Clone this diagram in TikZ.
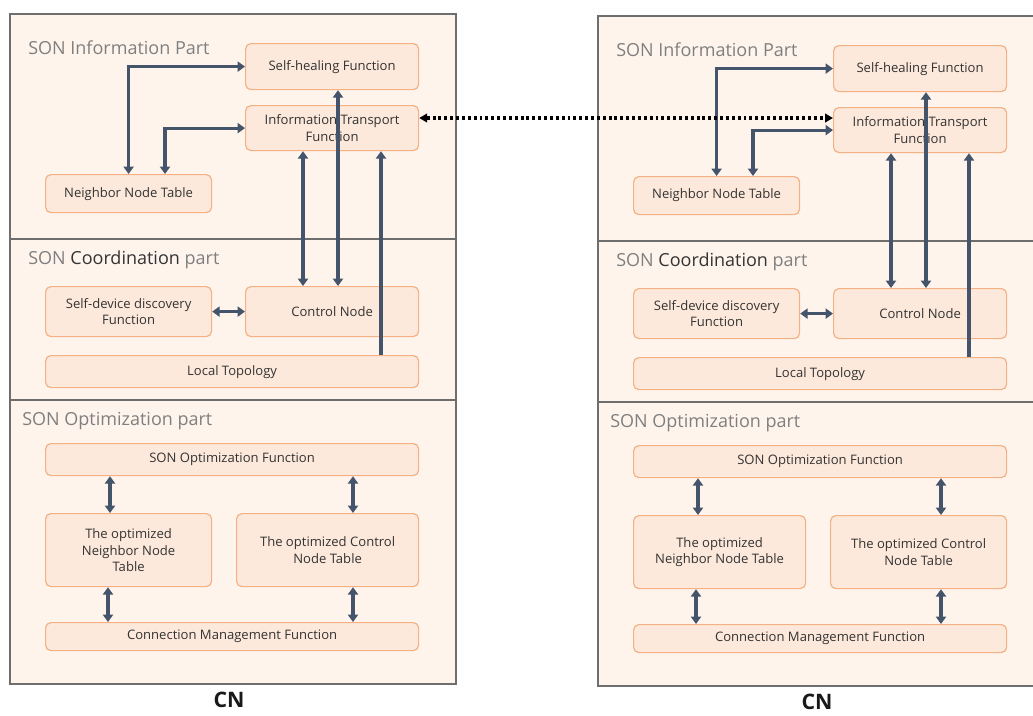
\documentclass[tikz,border=0pt]{standalone}
\usepackage{fontspec}
\setmainfont{Open Sans}
\usetikzlibrary{arrows.meta,calc}
\definecolor{panelfill}{HTML}{FEF4EC}
\definecolor{boxfill}{HTML}{FDE9DB}
\definecolor{boxdraw}{HTML}{F4B183}
\definecolor{arrowc}{HTML}{44546A}
\definecolor{panelline}{HTML}{6E6E6E}
\definecolor{textc}{HTML}{333333}
\definecolor{titlec}{HTML}{7F7F7F}
\tikzset{
  rect/.style n args={4}{anchor=north west, at={(#1,#2)},
    minimum width={(#3-#1)*0.75pt}, minimum height={(#4-#2)*0.75pt}},
  box/.style={draw=boxdraw, fill=boxfill, rounded corners=4pt, line width=0.9pt,
    inner sep=1pt, align=center, font=\fontsize{9.8}{12.5}\selectfont, text=textc},
  sect/.style={draw=panelline, fill=panelfill, line width=1.3pt, inner sep=0pt},
  title/.style={anchor=west, inner sep=0pt, text=titlec, font=\fontsize{13.5}{16}\selectfont},
  cnlabel/.style={inner sep=0pt, font=\fontsize{16}{18}\selectfont\bfseries, text=black!90},
  link/.style={draw=arrowc, line width=2.3pt,
    arrows={Triangle[length=5.5pt,width=7.5pt]-Triangle[length=5.5pt,width=7.5pt]}},
  linkone/.style={draw=arrowc, line width=2.3pt, arrows={-Triangle[length=5.5pt,width=7.5pt]}},
  dotarrow/.style={draw=black, line width=2.4pt, dash pattern=on 2.2pt off 2.2pt,
    arrows={Triangle[length=6pt,width=6.5pt]-Triangle[length=6pt,width=6.5pt]}},
}
\newcommand\cnpanel[3]{%
  \node[sect, rect={9}{13}{455}{238}] (s1) {};
  \node[sect, rect={9}{238}{455}{399}] (s2) {};
  \node[sect, rect={9}{399}{455}{683}] (s3) {};
  \node[title] (t1) at (28,48) {SON Information Part};
  \node[title] (t2) at (28,260) {SON \textcolor{textc}{Coordination} part};
  \node[title] (t3) at (22,421) {SON Optimization part};
  \node[box, rect={245}{43}{418}{89}] (sh) {Self-healing Function};
  \node[box, rect={245}{105}{418}{150}] (it) {Information Transport\\Function};
  \node[box, rect={45}{174}{211}{212}] (nt) {Neighbor Node Table};
  \node[box, rect={45}{286}{211}{336}] (sd) {Self-device discovery\\Function};
  \node[box, rect={245}{286}{418}{336}] (cn) {Control Node};
  \node[box, rect={45}{355}{418}{387}] (lt) {Local Topology};
  \node[box, rect={45}{443}{418}{475}] (so) {SON Optimization Function};
  \node[box, rect={45}{513}{#1}{586}] (on) {#3};
  \node[box, rect={#2}{513}{418}{586}] (oc) {The optimized Control\\Node Table};
  \node[box, rect={45}{622}{418}{650}] (cm) {Connection Management Function};
  \node[cnlabel] (lbl) at (229,700) {CN};
  \coordinate (a2) at (165,0);
  \coordinate (v1) at (303,0);
  \coordinate (v2) at (338,0);
  \coordinate (v3) at (381,0);
  \coordinate (o1) at (110,0);
  \coordinate (o2) at (353,0);
  \coordinate (o3) at (108,0);
  \draw[link] (sh.west) -| (nt.north);
  \draw[link] (it.west) -| (nt.north -| a2);
  \draw[link] (it.south -| v1) -- (cn.north -| v1);
  \draw[link] (sh.south -| v2) -- (cn.north -| v2);
  \draw[linkone] (lt.north -| v3) -- (it.south -| v3);
  \draw[link] (sd.east) -- (cn.west);
  \draw[link] (so.south -| o1) -- (on.north -| o1);
  \draw[link] (so.south -| o2) -- (oc.north -| o2);
  \draw[link] (on.south -| o3) -- (cm.north -| o3);
  \draw[link] (oc.south -| o2) -- (cm.north -| o2);
}
\begin{document}
\begin{tikzpicture}[x=0.75pt,y=-0.75pt]
  \useasboundingbox (0,0) rectangle (1033,715);
  \clip (0,0) rectangle (1033,715);
  \fill[white] (0,0) rectangle (1033,715);
  \begin{scope}[name prefix=L-]
    \cnpanel{211}{236}{The optimized\\Neighbor Node\\Table}
  \end{scope}
  \begin{scope}[shift={(588,2)}, name prefix=R-]
    \cnpanel{217}{242}{The optimized\\Neighbor Node Table}
  \end{scope}
  \coordinate (d) at ($(L-it.north east)+(0,13)$);
  \draw[dotarrow] (d) -- (d -| R-it.west);
\end{tikzpicture}
\end{document}
